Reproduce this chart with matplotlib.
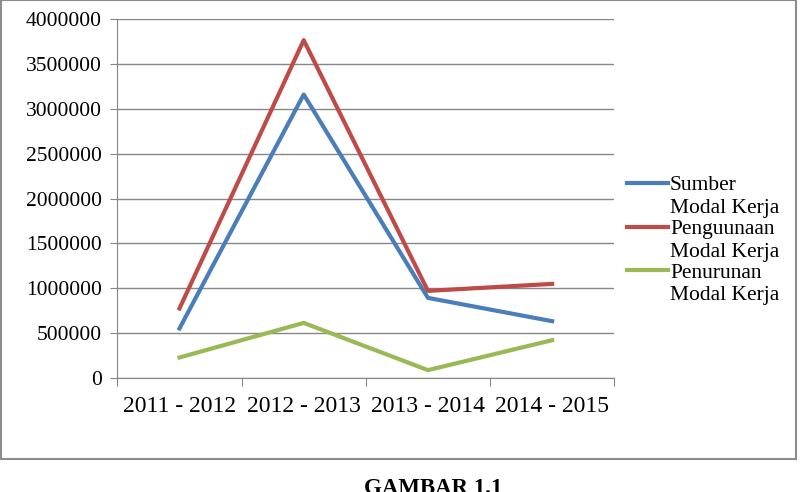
import matplotlib.pyplot as plt
from matplotlib.patches import Rectangle
from matplotlib.text import Annotation

periods = ["2011 - 2012", "2012 - 2013", "2013 - 2014", "2014 - 2015"]
sumber = [551000, 3160000, 892000, 632000]
penggunaan = [774000, 3766000, 970000, 1048000]
penurunan = [227000, 613000, 86000, 420000]
names = ["Sumber", "Penguunaan", "Penurunan"]
second_line = "Modal Kerja"

plt.rcParams['font.family'] = ['Liberation Serif', 'DejaVu Serif']

fig = plt.figure(figsize=(8.04, 4.92), dpi=100)
ax = fig.add_axes([0.146, 0.232, 0.618, 0.729])

x = range(len(periods))
ax.plot(x, sumber, color="#4a7ebb", lw=3.0, label=names[0])
ax.plot(x, penggunaan, color="#be4b48", lw=3.0, label=names[1])
ax.plot(x, penurunan, color="#98b954", lw=3.0, label=names[2])

ax.set_xlim(-0.5, len(periods) - 0.5)
ax.set_ylim(0, 4000000)
ax.set_yticks(range(0, 4000001, 500000))
ax.set_yticklabels([str(v) for v in range(0, 4000001, 500000)], fontsize=15.5)
ax.set_xticks([i - 0.5 for i in range(len(periods) + 1)])
ax.set_xticklabels([])
ax.set_xticks(list(x), minor=True)
ax.set_xticklabels(periods, minor=True, fontsize=17)
ax.tick_params(axis='x', which='minor', length=0, pad=13)
ax.tick_params(axis='x', which='major', length=6, color="#868686")
ax.tick_params(axis='y', length=5, color="#868686", pad=6)

ax.grid(axis='y', color="#868686", lw=1)
ax.set_axisbelow(True)
for s in ["top", "right"]:
    ax.spines[s].set_visible(False)
for s in ["left", "bottom"]:
    ax.spines[s].set_color("#868686")

leg = fig.legend(loc="center left", bbox_to_anchor=(627 / 804, 1 - 229 / 492),
                 bbox_transform=fig.transFigure, frameon=False,
                 fontsize=15.5, handlelength=1.9, handletextpad=0.1,
                 labelspacing=1.1, borderpad=0, borderaxespad=0)
# second line of each legend label, hung under the first line
for t in leg.get_texts():
    a = Annotation(second_line, xy=(0, 0), xycoords=t, xytext=(0, -2.5),
                   textcoords="offset points", va="top", ha="left",
                   fontsize=15.5, annotation_clip=False)
    a.set_zorder(leg.get_zorder() + 1)
    fig.add_artist(a)

fig.patches.append(Rectangle((1 / 804, 1 - 459 / 492), 795 / 804, 459 / 492,
                             transform=fig.transFigure, fill=False,
                             edgecolor="#8c8c8c", lw=1.5))

fig.text(433 / 804, 1 - 478 / 492, "GAMBAR 1.1", ha="center", va="top",
         fontsize=16.5, fontweight="bold")

fig.savefig("out.png")
